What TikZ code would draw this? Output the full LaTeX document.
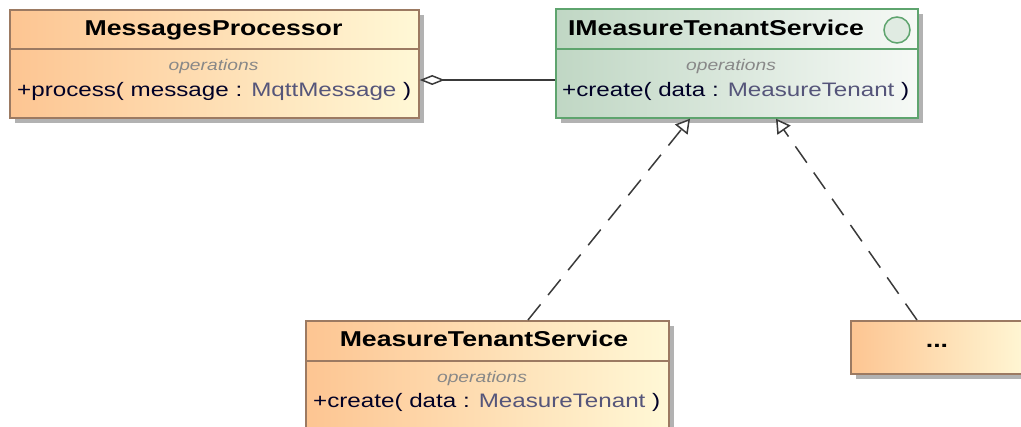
\documentclass[tikz,border=0pt]{standalone}
\usepackage{fontspec}
\usetikzlibrary{arrows.meta,shadows}
\newfontfamily\umlfont[FakeStretch=1.24]{Liberation Sans}
\definecolor{orL}{HTML}{FDC592}
\definecolor{orR}{HTML}{FFF8D6}
\definecolor{orB}{HTML}{9C7A62}
\definecolor{grL}{HTML}{C0D7C4}
\definecolor{grR}{HTML}{F6F9F6}
\definecolor{grB}{HTML}{5EA46E}
\definecolor{typec}{HTML}{55557A}
\definecolor{opsc}{HTML}{888888}
\definecolor{linec}{HTML}{3A3A3A}
\tikzset{
  classbox/.style={draw=orB, line width=1.7pt, left color=orL, right color=orR, rectangle, inner sep=0pt,
    drop shadow={shadow xshift=5pt, shadow yshift=-5pt, fill=black!30, opacity=1}},
  ifacebox/.style={draw=grB, line width=1.7pt, left color=grL, right color=grR, rectangle, inner sep=0pt,
    drop shadow={shadow xshift=5pt, shadow yshift=-5pt, fill=black!30, opacity=1}},
  titletext/.style={font=\umlfont\fontsize{21.5}{24}\selectfont\bfseries, text=black, inner sep=0pt, anchor=base},
  opstext/.style={font=\umlfont\fontsize{15.5}{18}\selectfont\itshape, text=opsc, inner sep=0pt, anchor=base},
  optext/.style={font=\umlfont\fontsize{19.5}{22}\selectfont, text=black!85!blue, inner sep=0pt, anchor=base west},
  realize/.style={draw=linec, line width=1.5pt, dash pattern=on 20pt off 12pt,
    -{Triangle[open, length=14pt, width=16pt, fill=white, line width=1.5pt]}},
  aggreg/.style={draw=linec, line width=1.5pt, -{Diamond[open, length=25pt, width=10pt, fill=white, line width=1.5pt]}}
}
\begin{document}
\begin{tikzpicture}[x=1pt, y=-1pt]
\useasboundingbox (0,0) rectangle (1021,427);
\clip (0,0) rectangle (1021,427);
% MessagesProcessor
\node[classbox, minimum width=409pt, minimum height=108pt, anchor=north west] (mp) at (9,9) {};
\draw[orB, line width=1.4pt] (mp.west |- 0,49) -- (mp.east |- 0,49);
\node[titletext] (mpt) at (213.5,36) {MessagesProcessor};
\node[opstext] (mpo) at (213.5,71) {operations};
\node[optext] (mpop) at (17,97) {+process( message : \textcolor{typec}{MqttMessage} )};
% IMeasureTenantService
\node[ifacebox, minimum width=362pt, minimum height=109pt, anchor=north west] (ims) at (555,8) {};
\draw[grB, line width=1.4pt] (ims.west |- 0,49) -- (ims.east |- 0,49);
\node[titletext] (imst) at (716,36) {IMeasureTenantService};
\node[circle, draw=grB, line width=1.5pt, fill=grR!60!grL, minimum size=26pt, inner sep=0pt] (imsc) at (897,30) {};
\node[opstext] (imso) at (731,71) {operations};
\node[optext] (imsop) at (562,97) {+create( data : \textcolor{typec}{MeasureTenant} )};
% MeasureTenantService
\node[classbox, minimum width=363pt, minimum height=130pt, anchor=north west] (mts) at (305,320) {};
\draw[orB, line width=1.4pt] (mts.west |- 0,361) -- (mts.east |- 0,361);
\node[titletext] (mtst) at (484,347) {MeasureTenantService};
\node[opstext] (mtso) at (482,383) {operations};
\node[optext] (mtsop) at (313,408) {+create( data : \textcolor{typec}{MeasureTenant} )};
% ... box
\node[classbox, minimum width=180pt, minimum height=53pt, anchor=north west] (dots) at (850,320) {};
\node[titletext] (dotst) at (937,348) {...};
% connectors
\draw[aggreg] (ims.west |- 0,80) -- (mp.east |- 0,80);
\draw[realize] (mts.north -| 528,0) -- (ims.south -| 690,0);
\draw[realize] (dots.north -| 917,0) -- (ims.south -| 776,0);
\end{tikzpicture}
\end{document}
